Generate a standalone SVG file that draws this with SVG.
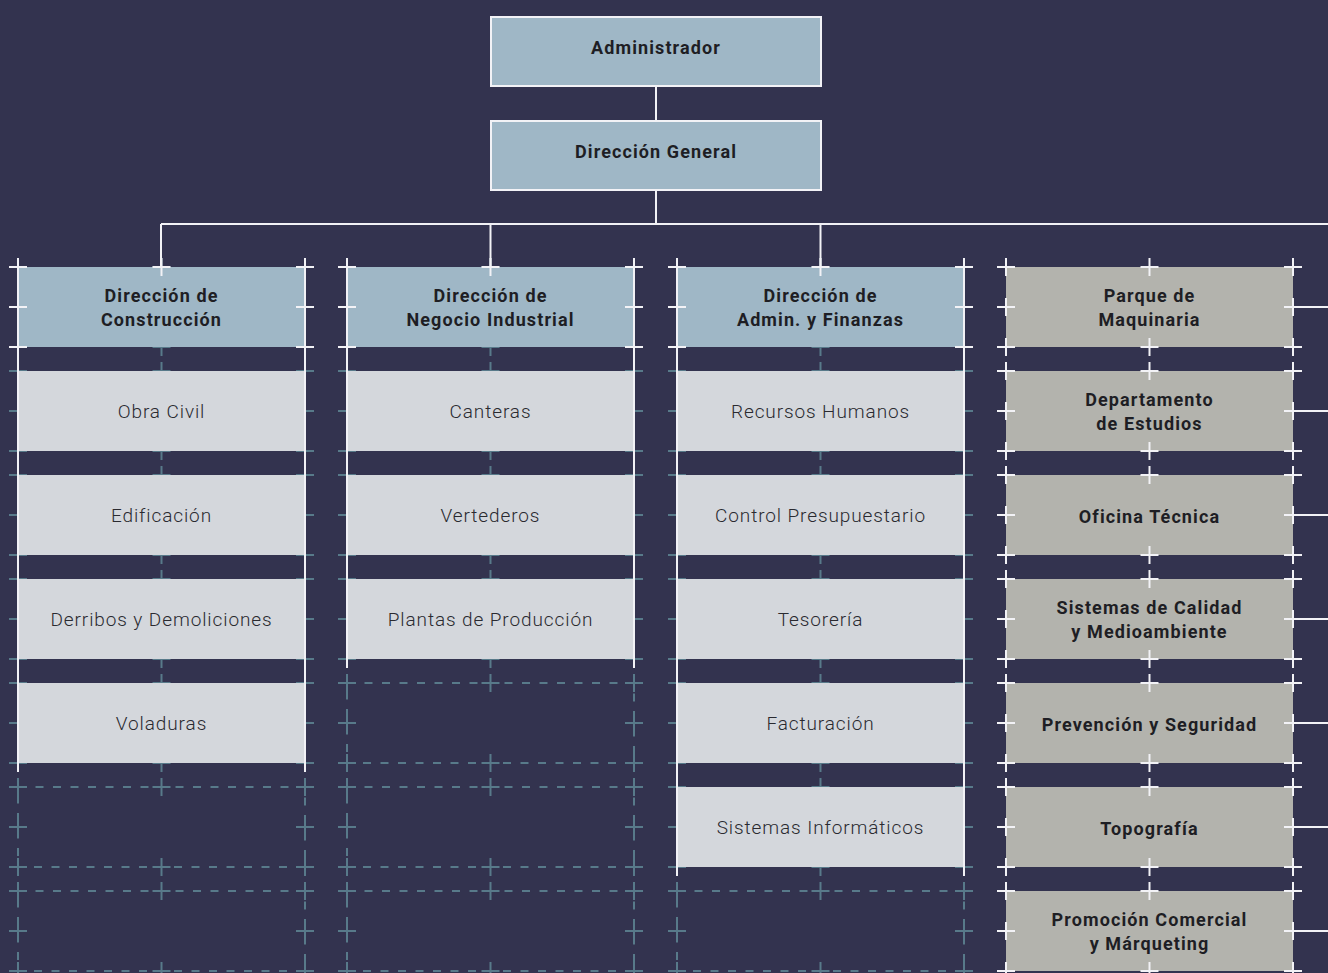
<svg xmlns="http://www.w3.org/2000/svg" xmlns:xlink="http://www.w3.org/1999/xlink" width="1328" height="973" viewBox="0 0 1328 973">
<style>
.bg{fill:#33334f}
.hd{fill:#9fb7c6}
.lt{fill:#d4d7dc}
.gr{fill:#b3b3ad}
.tb{fill:#9fb7c6;stroke:#f2f2f6;stroke-width:2}
.teal{fill:none;stroke:#587a8a;stroke-width:2}
.dash{fill:none;stroke:#587a8a;stroke-width:2;stroke-dasharray:8 9.5}
.wx{fill:none;stroke:#f2f2f6;stroke-width:2}
.conn{fill:none;stroke:#f2f2f6;stroke-width:2}
.b{font-family:Roboto,"Liberation Sans",sans-serif;font-weight:700;font-size:18px;fill:#1e1e24;text-anchor:middle;letter-spacing:1.1px}
.l{font-family:Roboto,"Liberation Sans",sans-serif;font-weight:300;font-size:19px;fill:#2a2a30;text-anchor:middle;letter-spacing:0.9px}
</style>
<defs>
<path id="cx" d="M-9 0H9M0-9V9M134.5 0H152.5M143.5-9V9M278 0H296M287-9V9M-9 40H9M0 31V49M278 40H296M287 31V49M-9 80H9M0 71V89M134.5 80H152.5M143.5 71V89M278 80H296M287 71V89"/>
<path id="cxh" d="M-9 0H9M0-9V9M134.5 0H152.5M143.5-9V9M278 0H296M287-9V9M-9 40H9M0 31V49M278 40H296M287 31V49M-9 80H9M0 71V89M278 80H296M287 71V89"/>
<rect id="cell" width="287" height="80"/>
</defs>
<rect class="bg" x="0" y="0" width="1328" height="973"/>

<g id="grid">
<use xlink:href="#cx" class="teal" x="18" y="267"/>
<use xlink:href="#cx" class="teal" x="18" y="371"/>
<use xlink:href="#cx" class="teal" x="18" y="475"/>
<use xlink:href="#cx" class="teal" x="18" y="579"/>
<use xlink:href="#cx" class="teal" x="18" y="683"/>
<use xlink:href="#cx" class="teal" x="18" y="787"/>
<use xlink:href="#cx" class="teal" x="18" y="891"/>
<use xlink:href="#cell" class="dash" x="18" y="787"/>
<use xlink:href="#cell" class="dash" x="18" y="891"/>
<use xlink:href="#cx" class="teal" x="347" y="267"/>
<use xlink:href="#cx" class="teal" x="347" y="371"/>
<use xlink:href="#cx" class="teal" x="347" y="475"/>
<use xlink:href="#cx" class="teal" x="347" y="579"/>
<use xlink:href="#cx" class="teal" x="347" y="683"/>
<use xlink:href="#cx" class="teal" x="347" y="787"/>
<use xlink:href="#cx" class="teal" x="347" y="891"/>
<use xlink:href="#cell" class="dash" x="347" y="683"/>
<use xlink:href="#cell" class="dash" x="347" y="787"/>
<use xlink:href="#cell" class="dash" x="347" y="891"/>
<use xlink:href="#cx" class="teal" x="677" y="267"/>
<use xlink:href="#cx" class="teal" x="677" y="371"/>
<use xlink:href="#cx" class="teal" x="677" y="475"/>
<use xlink:href="#cx" class="teal" x="677" y="579"/>
<use xlink:href="#cx" class="teal" x="677" y="683"/>
<use xlink:href="#cx" class="teal" x="677" y="787"/>
<use xlink:href="#cx" class="teal" x="677" y="891"/>
<use xlink:href="#cell" class="dash" x="677" y="891"/>
</g>

<g id="connectors">
<line class="conn" x1="656" y1="86" x2="656" y2="120"/>
<line class="conn" x1="656" y1="190" x2="656" y2="224"/>
<line class="conn" x1="161" y1="224" x2="1328" y2="224"/>
<line class="conn" x1="161" y1="224" x2="161" y2="267"/>
<line class="conn" x1="490.5" y1="224" x2="490.5" y2="267"/>
<line class="conn" x1="820.5" y1="224" x2="820.5" y2="267"/>
<line class="conn" x1="1293" y1="307" x2="1328" y2="307"/>
<line class="conn" x1="1293" y1="411" x2="1328" y2="411"/>
<line class="conn" x1="1293" y1="515" x2="1328" y2="515"/>
<line class="conn" x1="1293" y1="619" x2="1328" y2="619"/>
<line class="conn" x1="1293" y1="723" x2="1328" y2="723"/>
<line class="conn" x1="1293" y1="827" x2="1328" y2="827"/>
<line class="conn" x1="1293" y1="931" x2="1328" y2="931"/>
</g>

<g id="n-administrador">
<rect class="tb" x="491" y="17" width="330" height="69"/>
<text class="b" x="656" y="54">Administrador</text>
</g>
<g id="n-direccion-general">
<rect class="tb" x="491" y="121" width="330" height="69"/>
<text class="b" x="656" y="158">Dirección General</text>
</g>

<g id="n-construccion">
<use xlink:href="#cell" class="hd" x="18" y="267"/>
<text class="b" x="161.5" y="302">Dirección de</text>
<text class="b" x="161.5" y="326">Construcción</text>
</g>
<g id="n-obra-civil">
<use xlink:href="#cell" class="lt" x="18" y="371"/>
<text class="l" x="161.5" y="418">Obra Civil</text>
</g>
<g id="n-edificacion">
<use xlink:href="#cell" class="lt" x="18" y="475"/>
<text class="l" x="161.5" y="522">Edificación</text>
</g>
<g id="n-derribos">
<use xlink:href="#cell" class="lt" x="18" y="579"/>
<text class="l" x="161.5" y="626">Derribos y Demoliciones</text>
</g>
<g id="n-voladuras">
<use xlink:href="#cell" class="lt" x="18" y="683"/>
<text class="l" x="161.5" y="730">Voladuras</text>
</g>

<g id="n-negocio-industrial">
<use xlink:href="#cell" class="hd" x="347" y="267"/>
<text class="b" x="490.5" y="302">Dirección de</text>
<text class="b" x="490.5" y="326">Negocio Industrial</text>
</g>
<g id="n-canteras">
<use xlink:href="#cell" class="lt" x="347" y="371"/>
<text class="l" x="490.5" y="418">Canteras</text>
</g>
<g id="n-vertederos">
<use xlink:href="#cell" class="lt" x="347" y="475"/>
<text class="l" x="490.5" y="522">Vertederos</text>
</g>
<g id="n-plantas">
<use xlink:href="#cell" class="lt" x="347" y="579"/>
<text class="l" x="490.5" y="626">Plantas de Producción</text>
</g>

<g id="n-admin-finanzas">
<use xlink:href="#cell" class="hd" x="677" y="267"/>
<text class="b" x="820.5" y="302">Dirección de</text>
<text class="b" x="820.5" y="326">Admin. y Finanzas</text>
</g>
<g id="n-rrhh">
<use xlink:href="#cell" class="lt" x="677" y="371"/>
<text class="l" x="820.5" y="418">Recursos Humanos</text>
</g>
<g id="n-control">
<use xlink:href="#cell" class="lt" x="677" y="475"/>
<text class="l" x="820.5" y="522">Control Presupuestario</text>
</g>
<g id="n-tesoreria">
<use xlink:href="#cell" class="lt" x="677" y="579"/>
<text class="l" x="820.5" y="626">Tesorería</text>
</g>
<g id="n-facturacion">
<use xlink:href="#cell" class="lt" x="677" y="683"/>
<text class="l" x="820.5" y="730">Facturación</text>
</g>
<g id="n-sistemas-informaticos">
<use xlink:href="#cell" class="lt" x="677" y="787"/>
<text class="l" x="820.5" y="834">Sistemas Informáticos</text>
</g>

<g id="rails">
<line class="wx" x1="18" y1="258" x2="18" y2="772"/>
<line class="wx" x1="305" y1="258" x2="305" y2="772"/>
<line class="wx" x1="347" y1="258" x2="347" y2="668"/>
<line class="wx" x1="634" y1="258" x2="634" y2="668"/>
<line class="wx" x1="677" y1="258" x2="677" y2="876"/>
<line class="wx" x1="964" y1="258" x2="964" y2="876"/>
<use xlink:href="#cxh" class="wx" x="18" y="267"/>
<use xlink:href="#cxh" class="wx" x="347" y="267"/>
<use xlink:href="#cxh" class="wx" x="677" y="267"/>
</g>

<g id="n-parque">
<use xlink:href="#cell" class="gr" x="1006" y="267"/>
<use xlink:href="#cx" class="wx" x="1006" y="267"/>
<text class="b" x="1149.5" y="302">Parque de</text>
<text class="b" x="1149.5" y="326">Maquinaria</text>
</g>
<g id="n-estudios">
<use xlink:href="#cell" class="gr" x="1006" y="371"/>
<use xlink:href="#cx" class="wx" x="1006" y="371"/>
<text class="b" x="1149.5" y="406">Departamento</text>
<text class="b" x="1149.5" y="430">de Estudios</text>
</g>
<g id="n-oficina-tecnica">
<use xlink:href="#cell" class="gr" x="1006" y="475"/>
<use xlink:href="#cx" class="wx" x="1006" y="475"/>
<text class="b" x="1149.5" y="523">Oficina Técnica</text>
</g>
<g id="n-calidad">
<use xlink:href="#cell" class="gr" x="1006" y="579"/>
<use xlink:href="#cx" class="wx" x="1006" y="579"/>
<text class="b" x="1149.5" y="614">Sistemas de Calidad</text>
<text class="b" x="1149.5" y="638">y Medioambiente</text>
</g>
<g id="n-prevencion">
<use xlink:href="#cell" class="gr" x="1006" y="683"/>
<use xlink:href="#cx" class="wx" x="1006" y="683"/>
<text class="b" x="1149.5" y="731">Prevención y Seguridad</text>
</g>
<g id="n-topografia">
<use xlink:href="#cell" class="gr" x="1006" y="787"/>
<use xlink:href="#cx" class="wx" x="1006" y="787"/>
<text class="b" x="1149.5" y="835">Topografía</text>
</g>
<g id="n-promocion">
<use xlink:href="#cell" class="gr" x="1006" y="891"/>
<use xlink:href="#cx" class="wx" x="1006" y="891"/>
<text class="b" x="1149.5" y="926">Promoción Comercial</text>
<text class="b" x="1149.5" y="950">y Márqueting</text>
</g>
</svg>
